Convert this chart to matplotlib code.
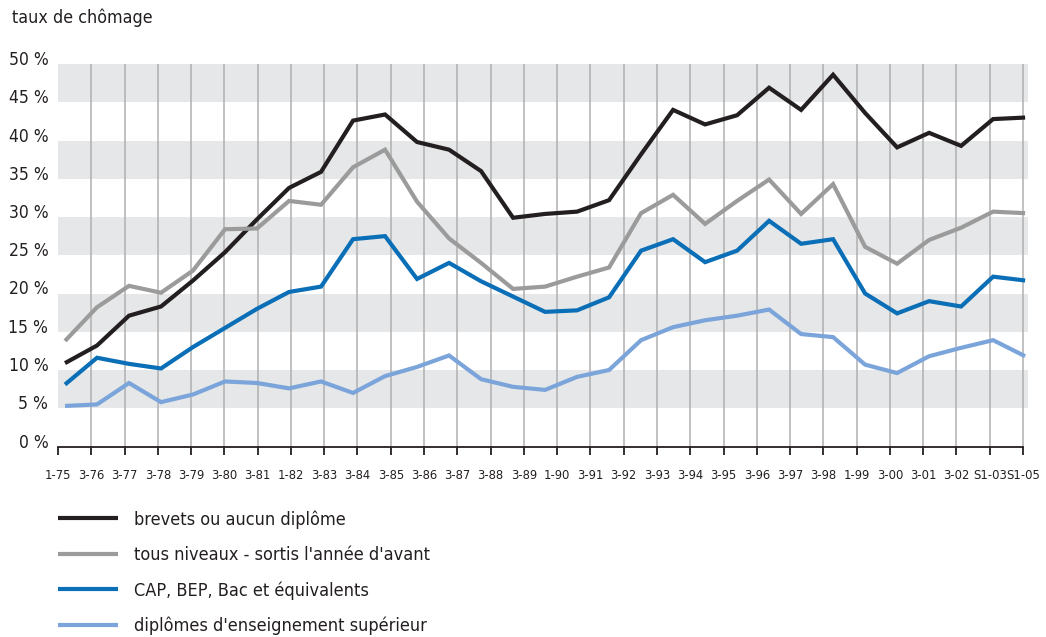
import matplotlib
matplotlib.use("Agg")
import matplotlib.pyplot as plt
from matplotlib import font_manager
from matplotlib.transforms import ScaledTranslation

names = {f.name for f in font_manager.fontManager.ttflist}
if "Liberation Sans Narrow" in names:
    FONT = ["Liberation Sans Narrow", "DejaVu Sans"]
    STRETCH = "normal"
else:
    FONT = ["DejaVu Sans"]
    STRETCH = "condensed"
plt.rcParams["font.family"] = FONT

# ---- data ----
tick_labels = ["1-75", "3-76", "3-77", "3-78", "3-79", "3-80", "3-81", "1-82", "3-83",
               "3-84", "3-85", "3-86", "3-87", "3-88", "3-89", "1-90", "3-91", "3-92",
               "3-93", "3-94", "3-95", "3-96", "3-97", "3-98", "1-99", "3-00", "3-01",
               "3-02", "S1-03", "S1-05"]

# 31 observations (evenly spaced along the axis)
brevets = [10.9, 13.2, 17.1, 18.3, 21.7, 25.4, 29.7, 33.8, 35.9, 42.6, 43.4, 39.8, 38.8,
           36.0, 29.9, 30.4, 30.7, 32.2, 38.2, 44.0, 42.1, 43.3, 46.9, 44.0, 48.6, 43.6,
           39.1, 41.0, 39.3, 42.8, 43.0]
tous = [13.8, 18.2, 21.0, 20.1, 23.0, 28.4, 28.5, 32.1, 31.6, 36.5, 38.8, 32.0, 27.2,
        24.0, 20.6, 20.9, 22.2, 23.4, 30.5, 32.9, 29.1, 32.1, 34.9, 30.4, 34.3, 26.1,
        23.9, 27.0, 28.6, 30.7, 30.5]
cap = [8.1, 11.6, 10.8, 10.2, 13.0, 15.5, 18.0, 20.2, 20.9, 27.1, 27.5, 21.9, 24.0,
       21.6, 19.6, 17.6, 17.8, 19.5, 25.6, 27.1, 24.1, 25.6, 29.5, 26.5, 27.1, 20.0,
       17.4, 19.0, 18.3, 22.2, 21.7]
sup = [5.3, 5.5, 8.3, 5.8, 6.8, 8.5, 8.3, 7.6, 8.5, 7.0, 9.2, 10.4, 11.9, 8.8, 7.8,
       7.4, 9.1, 10.0, 13.9, 15.6, 16.5, 17.1, 17.9, 14.7, 14.3, 10.7, 9.6, 11.8,
       12.9, 13.9, 11.8]

series_labels = ["brevets ou aucun diplôme",
                 "tous niveaux - sortis l'année d'avant",
                 "CAP, BEP, Bac et équivalents",
                 "diplômes d'enseignement supérieur"]
series_values = [brevets, tous, cap, sup]
colors = ["#231f20", "#9b9b9b", "#0a6fb7", "#7ba5da"]

y_ticks = [0, 5, 10, 15, 20, 25, 30, 35, 40, 45, 50]
bands = [(5, 10), (15, 20), (25, 30), (35, 40), (45, 50)]

# ---- figure ----
W, H = 1046, 637
fig = plt.figure(figsize=(W / 100, H / 100), dpi=100)
ax = fig.add_axes([58 / W, (H - 446.5) / H, 970 / W, (446.5 - 64) / H])

n_ticks = len(tick_labels)
ax.set_xlim(0, 29.15)
ax.set_ylim(0, 50)

for lo, hi in bands:
    ax.axhspan(lo, hi, color="#e6e7e8", lw=0, zorder=0)
ax.vlines(range(1, n_ticks), 0, 50, color="#b0b0b0", lw=1.1, zorder=1)

for s in ["top", "right", "left"]:
    ax.spines[s].set_visible(False)
ax.spines["bottom"].set_bounds(0, n_ticks - 1)
ax.spines["bottom"].set_linewidth(1.3)
ax.spines["bottom"].set_color("#231f20")
ax.spines["bottom"].set_zorder(5)

ax.set_xticks(range(n_ticks))
ax.set_xticklabels(tick_labels, fontsize=9.3, color="#231f20", fontstretch=STRETCH)
ax.tick_params(axis="x", direction="out", length=6, width=1.3, color="#231f20", pad=10)

ax.set_yticks(y_ticks)
ax.set_yticklabels([f"{v} %" for v in y_ticks], fontsize=12.5, color="#231f20",
                   fontstretch=STRETCH)
ax.tick_params(axis="y", length=0, pad=7)
off = ScaledTranslation(0, 6 / 100, fig.dpi_scale_trans)
for lab in ax.get_yticklabels():
    lab.set_transform(lab.get_transform() + off)

# data axis: 31 evenly spaced observations
axd = ax.twiny()
n_obs = len(brevets)
axd.set_xlim(-0.219, 30.09)
axd.set_ylim(0, 50)
axd.axis("off")
handles = []
for vals, c, lab in zip(series_values, colors, series_labels):
    h, = axd.plot(range(n_obs), vals, color=c, lw=3.0, solid_joinstyle="miter",
                  solid_capstyle="butt", label=lab, zorder=3)
    handles.append(h)

fig.text(12 / W, 1 - 18 / H, "taux de chômage", fontsize=12.8, color="#231f20",
         va="center", ha="left", fontstretch=STRETCH)

leg = fig.legend(handles, series_labels, loc="upper left",
                 bbox_to_anchor=(51 / W, 1 - 503 / H), frameon=False,
                 fontsize=13, handlelength=3.3, handletextpad=0.9,
                 labelspacing=0.95, borderaxespad=0)
for t in leg.get_texts():
    t.set_color("#231f20")
    t.set_fontstretch(STRETCH)

fig.savefig("out.png", dpi=100)
